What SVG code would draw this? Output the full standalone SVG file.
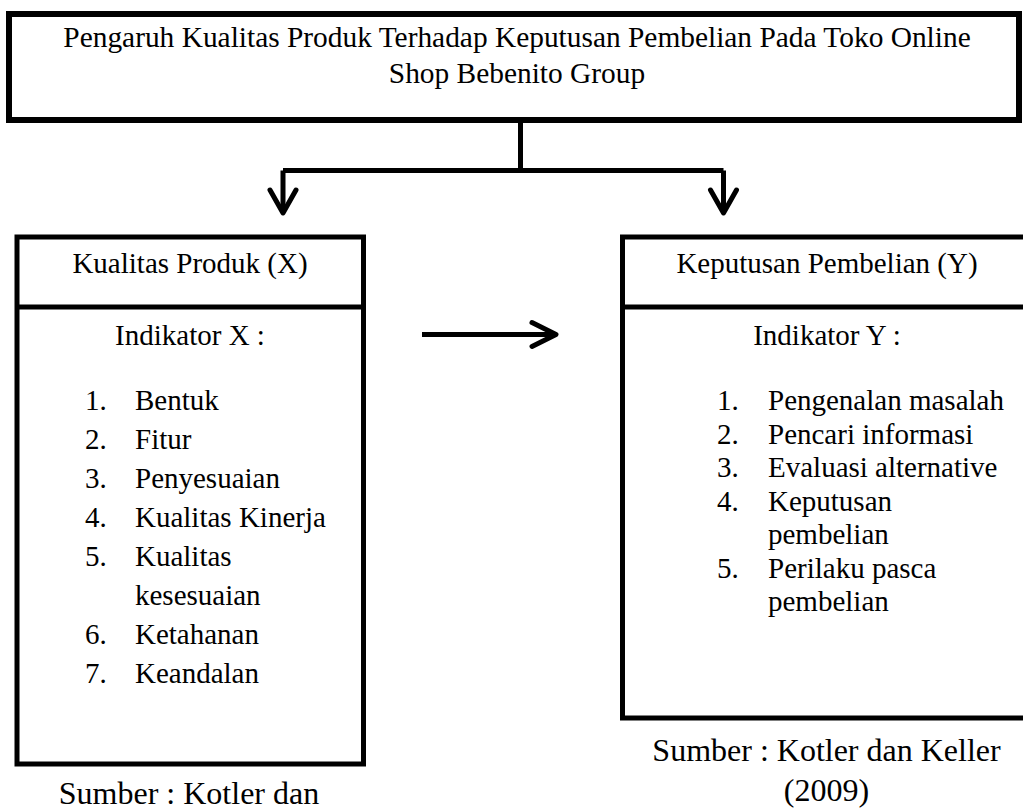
<svg xmlns="http://www.w3.org/2000/svg" width="1023" height="809" viewBox="0 0 1023 809">
<defs>
<style>
text{font-family:"Liberation Serif","Times New Roman",serif;fill:#000}
.t{font-size:29px}
.h{font-size:29.4px}
.s{font-size:32px}
.c{text-anchor:middle}
.box{fill:#fff;stroke:#000;stroke-width:5}
.div{stroke:#000;stroke-width:5}
.con{fill:none;stroke:#000;stroke-width:5;stroke-linecap:round;stroke-linejoin:round}
</style>
</defs>
<rect width="1023" height="809" fill="#fff"/>
<g id="connectors">
<path class="con" d="M520.5 120 V170.5 M283 170.5 H723.5 M283 170.5 V213 M723.5 170.5 V213" style="stroke-linecap:butt"/>
<path class="con" d="M270 190 L283 213 L296 190"/>
<path class="con" d="M710.5 190 L723.5 213 L736.5 190"/>
<path class="con" d="M422 334.5 H555" style="stroke-linecap:butt"/>
<path class="con" d="M532 322.5 L556 334.5 L532 346.5"/>
</g>
<g id="node-title">
<rect x="9" y="14" width="1010" height="106" style="fill:#fff;stroke:#000;stroke-width:6"/>
<text class="h c" x="517" y="47">Pengaruh Kualitas Produk Terhadap Keputusan Pembelian Pada Toko Online</text>
<text class="h c" x="517" y="83">Shop Bebenito Group</text>
</g>
<g id="node-x">
<rect class="box" x="17" y="237" width="346.5" height="527"/>
<line class="div" x1="17" y1="307" x2="363.5" y2="307"/>
<text class="t c" x="190" y="273">Kualitas Produk (X)</text>
<text class="t c" x="190" y="345">Indikator X :</text>
<text class="t" x="85" y="410">1.</text><text class="t" x="135" y="410">Bentuk</text>
<text class="t" x="85" y="449">2.</text><text class="t" x="135" y="449">Fitur</text>
<text class="t" x="85" y="488">3.</text><text class="t" x="135" y="488">Penyesuaian</text>
<text class="t" x="85" y="527">4.</text><text class="t" x="135" y="527">Kualitas Kinerja</text>
<text class="t" x="85" y="566">5.</text><text class="t" x="135" y="566">Kualitas</text>
<text class="t" x="135" y="605">kesesuaian</text>
<text class="t" x="85" y="644">6.</text><text class="t" x="135" y="644">Ketahanan</text>
<text class="t" x="85" y="683">7.</text><text class="t" x="135" y="683">Keandalan</text>
<text class="s c" x="189" y="804">Sumber : Kotler dan</text>
</g>
<g id="node-y">
<rect class="box" x="622.5" y="237" width="420" height="481"/>
<line class="div" x1="622.5" y1="307" x2="1030" y2="307"/>
<text class="t c" x="827" y="273">Keputusan Pembelian (Y)</text>
<text class="t c" x="827" y="345">Indikator Y :</text>
<text class="t" x="717" y="410">1.</text><text class="t" x="768" y="410">Pengenalan masalah</text>
<text class="t" x="717" y="443.5">2.</text><text class="t" x="768" y="443.5">Pencari informasi</text>
<text class="t" x="717" y="477">3.</text><text class="t" x="768" y="477">Evaluasi alternative</text>
<text class="t" x="717" y="510.5">4.</text><text class="t" x="768" y="510.5">Keputusan</text>
<text class="t" x="768" y="544">pembelian</text>
<text class="t" x="717" y="577.5">5.</text><text class="t" x="768" y="577.5">Perilaku pasca</text>
<text class="t" x="768" y="611">pembelian</text>
<text class="s c" x="826.5" y="761">Sumber : Kotler dan Keller</text>
<text class="s c" x="826.5" y="801">(2009)</text>
</g>
</svg>
